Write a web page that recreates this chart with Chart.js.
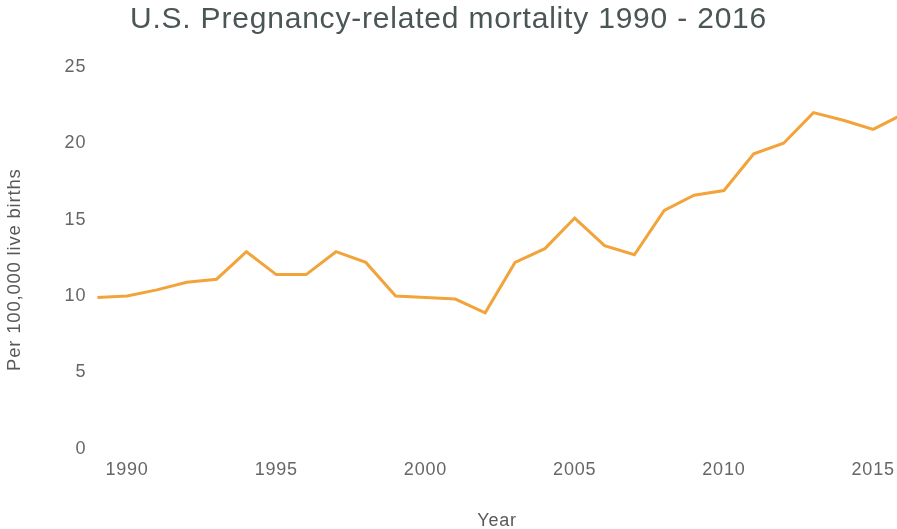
<!DOCTYPE html>
<html>
<head>
<meta charset="utf-8">
<script src="https://cdn.jsdelivr.net/npm/chart.js@4/dist/chart.umd.min.js"></script>
<style>
  html, body { margin: 0; padding: 0; background: #ffffff; }
  #wrap { width: 897px; height: 529px; position: relative; }
</style>
</head>
<body>
<div id="wrap"><canvas id="c" width="897" height="529"></canvas></div>
<script>
const chartTitle = "U.S. Pregnancy-related mortality 1990 - 2016";
const yAxisTitle = "Per 100,000 live births";
const xAxisTitle = "Year";
const years = [1989, 1990, 1991, 1992, 1993, 1994, 1995, 1996, 1997, 1998,
               1999, 2000, 2001, 2002, 2003, 2004, 2005, 2006, 2007, 2008,
               2009, 2010, 2011, 2012, 2013, 2014, 2015, 2016];
const mortality = [9.9, 10.0, 10.4, 10.9, 11.1, 12.9, 11.4, 11.4, 12.9, 12.2,
                   10.0, 9.9, 9.8, 8.9, 12.2, 13.1, 15.1, 13.3, 12.7, 15.6,
                   16.6, 16.9, 19.3, 20.0, 22.0, 21.5, 20.9, 21.9];
const yTicks = [0, 5, 10, 15, 20, 25];
const xTicks = [1990, 1995, 2000, 2005, 2010, 2015];

const points = years.map((y, i) => ({ x: y, y: mortality[i] }));

Chart.defaults.font.family = "'Liberation Sans', Arial, sans-serif";

const spacingPlugin = {
  id: 'spacing',
  beforeDraw(chart) { chart.ctx.letterSpacing = '0.8px'; },
  afterDraw(chart) { chart.ctx.letterSpacing = '0px'; }
};

new Chart(document.getElementById('c'), {
  type: 'line',
  data: {
    datasets: [{
      label: 'Pregnancy-related mortality',
      data: points,
      borderColor: '#f2a33a',
      backgroundColor: '#f2a33a',
      borderWidth: 3,
      pointRadius: 0,
      pointHoverRadius: 0,
      tension: 0,
      fill: false
    }]
  },
  options: {
    responsive: false,
    animation: false,
    events: [],
    layout: { padding: 0 },
    plugins: {
      legend: { display: false },
      tooltip: { enabled: false },
      title: {
        display: true,
        text: chartTitle,
        color: '#4a5555',
        font: { size: 30, weight: 'normal' },
        padding: { top: 2, bottom: 28.8 }
      }
    },
    scales: {
      x: {
        type: 'linear',
        min: 1989,
        max: 2015.8,
        grid: { display: false, drawTicks: true, tickLength: 10 },
        border: { display: false },
        afterBuildTicks(scale) { scale.ticks = xTicks.map(v => ({ value: v })); },
        ticks: {
          padding: 0,
          color: '#666666',
          font: { size: 18 },
          maxRotation: 0,
          callback: v => String(v)
        },
        title: {
          display: true,
          text: xAxisTitle,
          color: '#595959',
          font: { size: 18 },
          padding: { top: 30, bottom: -3 }
        }
      },
      y: {
        min: 0,
        max: 25,
        grid: { display: false, drawTicks: false },
        border: { display: false },
        afterBuildTicks(scale) { scale.ticks = yTicks.map(v => ({ value: v })); },
        ticks: {
          padding: 11,
          color: '#666666',
          font: { size: 18 },
          callback: v => String(v)
        },
        title: {
          display: true,
          text: yAxisTitle + '    ',
          color: '#595959',
          font: { size: 18.5 },
          padding: { top: 4, bottom: 29 }
        }
      }
    }
  },
  plugins: [spacingPlugin]
});
</script>
</body>
</html>
